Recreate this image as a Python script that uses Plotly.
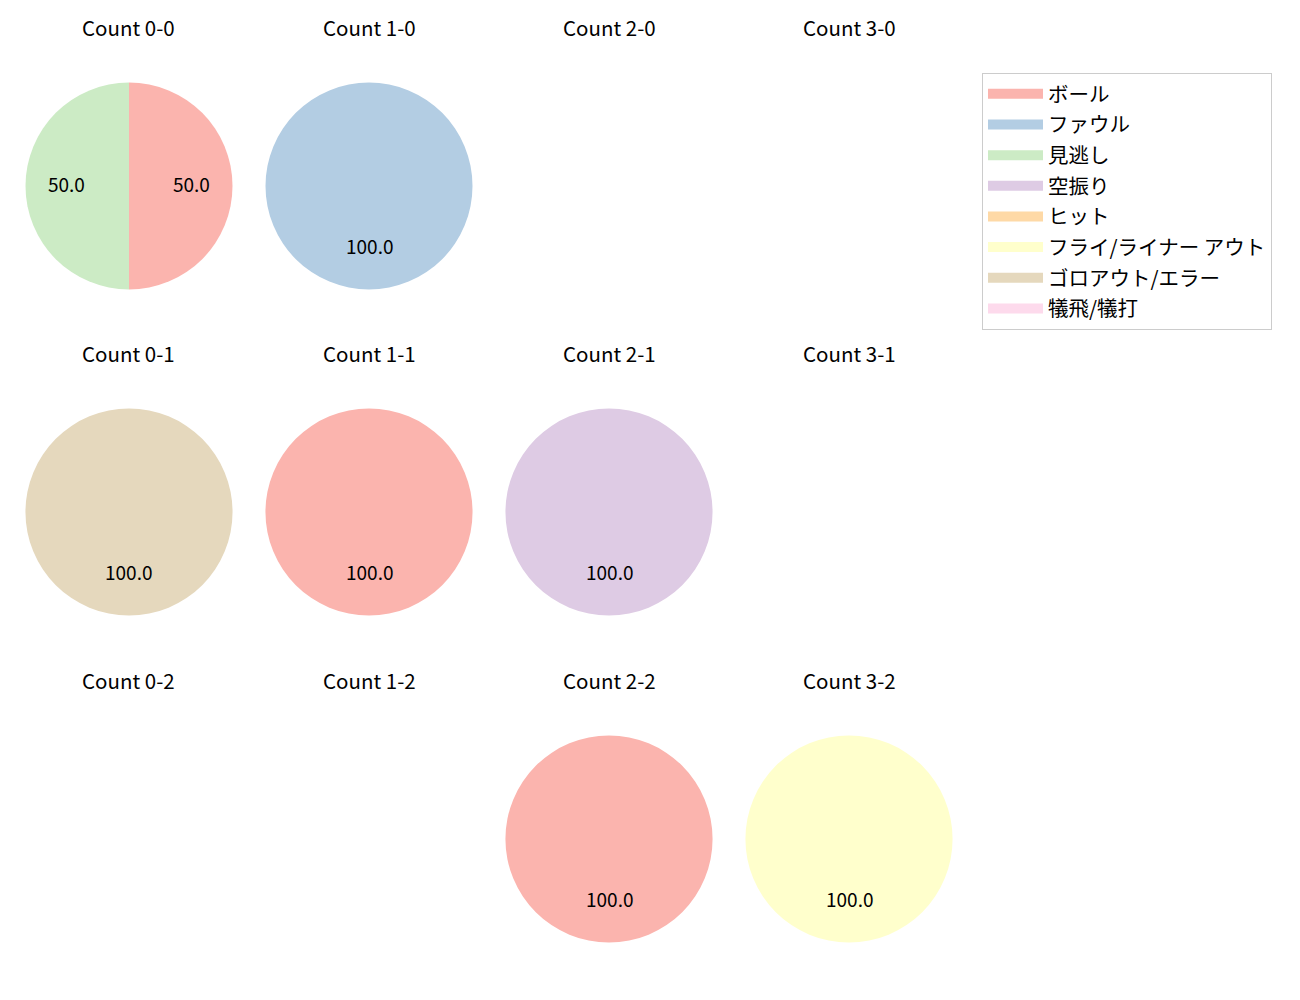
import math
import plotly.graph_objects as go

# ------------------------------------ Data ------------------------------------

categories = ["ボール", "ファウル", "見逃し", "空振り", "ヒット",
              "フライ/ライナー アウト", "ゴロアウト/エラー", "犠飛/犠打"]
colors = ["#fbb4ae", "#b3cde3", "#ccebc5", "#decbe4", "#fed9a6",
          "#ffffcc", "#e5d8bd", "#fddaec"]

# counts laid out as (balls, strikes)
balls = [0, 1, 2, 3]
strikes = [0, 1, 2]

count_values = {
    (0, 0): [1, 0, 1, 0, 0, 0, 0, 0],
    (1, 0): [0, 1, 0, 0, 0, 0, 0, 0],
    (2, 0): [0, 0, 0, 0, 0, 0, 0, 0],
    (3, 0): [0, 0, 0, 0, 0, 0, 0, 0],
    (0, 1): [0, 0, 0, 0, 0, 0, 1, 0],
    (1, 1): [1, 0, 0, 0, 0, 0, 0, 0],
    (2, 1): [0, 0, 0, 1, 0, 0, 0, 0],
    (3, 1): [0, 0, 0, 0, 0, 0, 0, 0],
    (0, 2): [0, 0, 0, 0, 0, 0, 0, 0],
    (1, 2): [0, 0, 0, 0, 0, 0, 0, 0],
    (2, 2): [1, 0, 0, 0, 0, 0, 0, 0],
    (3, 2): [0, 0, 0, 0, 0, 1, 0, 0],
}

# ------------------------------------ Layout ------------------------------------

W, H = 1300, 1000
OFF = 8  # page body margin
FONT = "Noto Sans CJK JP"
col_cx = [129, 369, 609, 849]
row_cy = [186, 512, 839]
radius = 103.5
title_gap = 159


def px(x):
    return (x - OFF) / W


def py(y):
    return 1 - (y - OFF) / H


fig = go.Figure()
annotations = []

for r, s in enumerate(strikes):
    for c, b in enumerate(balls):
        vals = count_values[(b, s)]
        cx, cy = col_cx[c], row_cy[r]
        annotations.append(dict(
            x=px(cx), y=py(cy - title_gap), xref="paper", yref="paper",
            xanchor="center", yanchor="middle",
            text="Count {}-{}".format(b, s), showarrow=False,
            font=dict(size=20.5, color="#000000", family=FONT)))
        total = sum(vals)
        if total == 0:
            continue
        fig.add_trace(go.Pie(
            labels=categories, values=vals, sort=False, direction="clockwise",
            rotation=0, marker=dict(colors=colors, line=dict(width=0)),
            textinfo="none", hoverinfo="label+percent", showlegend=False,
            domain=dict(x=[px(cx - radius), px(cx + radius)],
                        y=[py(cy + radius), py(cy - radius)])))
        # percentage labels at 0.6 of the radius, mid-angle of each wedge
        cum = 0
        for v in vals:
            if v == 0:
                continue
            mid = (cum + v / 2) / total * 2 * math.pi
            cum += v
            lx = cx + 0.6 * radius * math.sin(mid)
            ly = cy - 0.6 * radius * math.cos(mid) - 3
            annotations.append(dict(
                x=px(lx), y=py(ly), xref="paper", yref="paper",
                xanchor="center", yanchor="middle",
                text="{:.1f}".format(v / total * 100), showarrow=False,
                font=dict(size=19, color="#000000", family=FONT)))

# legend entries
for i, (cat, col) in enumerate(zip(categories, colors)):
    fig.add_trace(go.Scatter(
        x=[None], y=[None], mode="lines", name=cat, legendgroup=str(i),
        line=dict(color=col, width=15), hoverinfo="skip"))

fig.update_layout(
    width=W, height=H, margin=dict(l=0, r=0, t=0, b=0),
    paper_bgcolor="white", plot_bgcolor="white",
    xaxis=dict(visible=False), yaxis=dict(visible=False),
    annotations=annotations,
    legend=dict(x=px(982), y=py(73), xanchor="left", yanchor="top",
                bordercolor="#cccccc", borderwidth=1, tracegroupgap=1,
                itemwidth=55,
                font=dict(size=20.5, color="#000000", family=FONT)),
    font=dict(family=FONT),
)

fig.write_html("out.html")
